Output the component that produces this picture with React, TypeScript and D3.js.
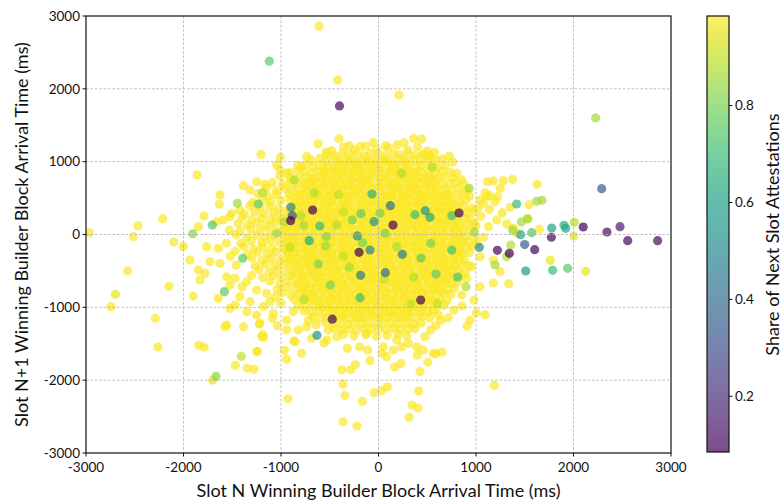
import React from 'react';
import * as d3 from 'd3';

// ---- axis ticks ----
const xTicks = [-3000, -2000, -1000, 0, 1000, 2000, 3000];
const yTicks = [-3000, -2000, -1000, 0, 1000, 2000, 3000];
const cbTicks = [0.2, 0.4, 0.6, 0.8];
const shareMin = 0.085;
const shareMax = 0.985;

// ---- data: [slot N arrival ms, slot N+1 arrival ms, share of next slot attestations (%)] ----
const corePoints: number[][] = [
[-480,1150,98],[-360,1200,98],[-250,1165,98],[-130,1215,98],[-20,1170,98],[100,1190,98],[190,1230,98],[300,1160,98],[400,1205,98],[500,1150,98],[575,1128,98],
[-530,1100,98],[-448,1085,98],[-370,1112,98],[-305,1094,98],[-222,1106,98],[-146,1088,98],[-80,1115,98],[4,1098,98],[72,1082,98],[155,1108,98],[221,1093,98],[304,1110,98],[371,1090,98],[455,1102,98],[522,1084,98],
[-692,1020,98],[-600,1045,98],[-541,1008,98],[-460,1026,98],[-391,1015,98],[-309,1030,98],[-240,1005,98],[-160,1022,98],[-92,1012,98],[-10,1034,98],[65,1018,98],[133,1006,98],[215,1028,98],[284,1014,98],[366,1024,98],[433,1010,98],[515,1032,98],[590,1016,98],[655,1040,98],
[-828,945,98],[-740,960,98],[-672,930,98],[-604,952,98],[-522,938,98],[-453,926,98],[-372,948,98],[-303,935,98],[-221,957,98],[-154,929,98],[-71,944,98],[3,936,98],[78,950,98],[147,927,98],[228,941,98],[297,955,98],[378,932,98],[446,946,98],[528,938,98],[597,925,98],[680,948,98],
[-913,852,98],[-830,875,98],[-763,870,98],[-688,848,98],[-613,864,98],[-538,855,98],[-463,872,98],[-388,846,98],[-313,860,98],[-238,868,98],[-163,851,98],[-88,866,98],[-13,857,98],[62,844,98],[137,870,98],[212,853,98],[287,862,98],[362,849,98],[437,868,98],[512,856,98],[587,845,98],[662,866,98],[737,852,98],
[-1010,800,98],[-905,768,98],[-822,772,98],[-747,785,98],[-679,768,98],[-597,792,98],[-528,777,98],[-446,766,98],[-378,788,98],[-296,774,98],[-229,782,98],[-147,769,98],[-78,791,98],[3,776,98],[71,784,98],[154,770,98],[221,789,98],[304,765,98],[372,781,98],[454,773,98],[521,790,98],[603,767,98],[671,785,98],[760,778,98],[850,752,98],
[-1090,712,98],[-985,684,98],[-905,715,98],[-841,696,98],[-760,712,98],[-691,694,98],[-609,705,98],[-541,688,98],[-460,710,98],[-392,699,98],[-310,686,98],[-241,707,98],[-160,695,98],[-91,714,98],[-9,690,98],[59,703,98],[141,692,98],[208,711,98],[291,698,98],[359,687,98],[441,706,98],[509,694,98],[590,709,98],[658,690,98],[735,698,98],[795,716,98],[880,688,98],
[-1150,635,98],[-1045,600,98],[-960,630,98],[-896,608,98],[-829,625,98],[-746,614,98],[-678,632,98],[-603,606,98],[-521,621,98],[-454,630,98],[-371,611,98],[-304,624,98],[-221,607,98],[-153,629,98],[-72,616,98],[4,626,98],[71,609,98],[154,622,98],[228,633,98],[297,612,98],[379,619,98],[446,605,98],[529,628,98],[596,615,98],[679,623,98],[746,610,98],[820,640,98],[905,605,98],
[-1235,560,98],[-1140,530,98],[-1050,548,98],[-917,545,98],[-834,528,98],[-766,550,98],[-684,536,98],[-617,542,98],[-535,526,98],[-466,553,98],[-384,539,98],[-317,530,98],[-235,547,98],[-166,535,98],[-84,551,98],[-16,527,98],[66,544,98],[133,533,98],[216,549,98],[283,538,98],[366,529,98],[433,546,98],[516,537,98],[583,552,98],[666,531,98],[733,543,98],[812,540,98],[874,556,98],[935,528,98],
[-1290,440,98],[-1190,476,98],[-1105,450,98],[-1000,470,98],[-904,472,98],[-821,448,98],[-754,462,98],[-671,457,98],[-604,470,98],[-521,450,98],[-454,465,98],[-371,446,98],[-304,461,98],[-221,473,98],[-154,454,98],[-71,466,98],[-4,449,98],[79,463,98],[146,458,98],[229,471,98],[296,445,98],[379,460,98],[446,467,98],[529,453,98],[596,470,98],[679,447,98],[746,464,98],[830,452,98],[900,478,98],
[-1320,395,98],[-1215,368,98],[-1120,390,98],[-1030,366,98],[-913,370,98],[-838,390,98],[-763,376,98],[-688,383,98],[-613,368,98],[-538,392,98],[-463,379,98],[-388,371,98],[-313,387,98],[-238,374,98],[-163,391,98],[-88,367,98],[-13,384,98],[62,377,98],[137,389,98],[212,369,98],[287,382,98],[362,375,98],[437,393,98],[512,373,98],[587,386,98],[662,378,98],[737,366,98],[812,389,98],[880,380,98],[960,362,98],
[-1375,280,98],[-1270,312,98],[-1175,290,98],[-1080,305,98],[-975,310,98],[-900,289,98],[-825,303,98],[-750,296,98],[-675,311,98],[-600,288,98],[-525,305,98],[-450,298,98],[-375,290,98],[-300,309,98],[-225,294,98],[-150,302,98],[-75,287,98],[0,306,98],[75,299,98],[150,291,98],[225,312,98],[300,297,98],[375,285,98],[450,304,98],[525,293,98],[600,308,98],[675,300,98],[750,289,98],[825,306,98],[900,295,98],[975,318,98],
[-1400,235,98],[-1300,205,98],[-1205,222,98],[-1110,200,98],[-1040,238,98],[-988,210,98],[-913,230,98],[-838,216,98],[-763,223,98],[-688,208,98],[-613,232,98],[-538,219,98],[-463,211,98],[-388,227,98],[-313,214,98],[-238,231,98],[-163,207,98],[-88,224,98],[-13,217,98],[62,229,98],[137,209,98],[212,222,98],[287,215,98],[362,233,98],[437,213,98],[512,226,98],[587,218,98],[662,206,98],[737,229,98],[812,214,98],[887,227,98],[945,210,98],
[-1440,150,98],[-1345,124,98],[-1250,156,98],[-1160,128,98],[-1065,146,98],[-975,150,98],[-900,128,98],[-825,143,98],[-750,137,98],[-675,152,98],[-600,129,98],[-525,146,98],[-450,138,98],[-375,131,98],[-300,149,98],[-225,134,98],[-150,142,98],[-75,127,98],[0,146,98],[75,139,98],[150,131,98],[225,153,98],[300,136,98],[375,126,98],[450,145,98],[525,133,98],[600,148,98],[675,140,98],[750,129,98],[825,147,98],[900,136,98],[985,150,98],
[-1420,45,98],[-1310,75,98],[-1210,50,98],[-1115,70,98],[-1015,48,98],[-938,50,98],[-863,70,98],[-788,56,98],[-713,63,98],[-638,48,98],[-563,72,98],[-488,59,98],[-413,51,98],[-338,67,98],[-263,54,98],[-188,71,98],[-113,47,98],[-38,64,98],[37,57,98],[112,69,98],[187,49,98],[262,62,98],[337,55,98],[412,73,98],[487,53,98],[562,66,98],[637,58,98],[712,46,98],[787,69,98],[862,54,98],[937,66,98],
[-1460,-5,98],[-1350,-38,98],[-1250,-10,98],[-1160,-35,98],[-1070,-8,98],[-975,-10,98],[-900,-32,98],[-825,-17,98],[-750,-23,98],[-675,-8,98],[-600,-31,98],[-525,-14,98],[-450,-22,98],[-375,-29,98],[-300,-11,98],[-225,-26,98],[-150,-18,98],[-75,-33,98],[0,-14,98],[75,-21,98],[150,-29,98],[225,-7,98],[300,-24,98],[375,-34,98],[450,-15,98],[525,-27,98],[600,-12,98],[675,-20,98],[750,-31,98],[825,-13,98],[900,-24,98],[990,-42,98],
[-1410,-120,98],[-1305,-88,98],[-1200,-115,98],[-1110,-85,98],[-1020,-110,98],[-938,-110,98],[-863,-90,98],[-788,-104,98],[-713,-97,98],[-638,-112,98],[-563,-88,98],[-488,-101,98],[-413,-109,98],[-338,-93,98],[-263,-106,98],[-188,-89,98],[-113,-113,98],[-38,-96,98],[37,-103,98],[112,-91,98],[187,-111,98],[262,-98,98],[337,-105,98],[412,-87,98],[487,-107,98],[562,-94,98],[637,-102,98],[712,-114,98],[787,-91,98],[862,-106,98],[920,-94,98],
[-1380,-165,98],[-1280,-200,98],[-1185,-170,98],[-1090,-195,98],[-975,-190,98],[-900,-169,98],[-825,-183,98],[-750,-177,98],[-675,-192,98],[-600,-168,98],[-525,-185,98],[-450,-178,98],[-375,-171,98],[-300,-189,98],[-225,-174,98],[-150,-182,98],[-75,-167,98],[0,-186,98],[75,-179,98],[150,-171,98],[225,-193,98],[300,-176,98],[375,-166,98],[450,-185,98],[525,-173,98],[600,-188,98],[675,-180,98],[750,-169,98],[825,-187,98],[900,-176,98],[960,-158,98],
[-1345,-275,98],[-1240,-245,98],[-1140,-270,98],[-1050,-240,98],[-938,-270,98],[-863,-249,98],[-788,-263,98],[-713,-257,98],[-638,-272,98],[-563,-248,98],[-488,-265,98],[-413,-258,98],[-338,-251,98],[-263,-269,98],[-188,-254,98],[-113,-262,98],[-38,-247,98],[37,-266,98],[112,-259,98],[187,-251,98],[262,-273,98],[337,-256,98],[412,-246,98],[487,-265,98],[562,-253,98],[637,-268,98],[712,-260,98],[787,-249,98],[862,-267,98],[935,-250,98],
[-1300,-320,98],[-1195,-355,98],[-1100,-330,98],[-1005,-352,98],[-900,-350,98],[-825,-329,98],[-750,-343,98],[-675,-337,98],[-600,-352,98],[-525,-328,98],[-450,-345,98],[-375,-338,98],[-300,-331,98],[-225,-349,98],[-150,-334,98],[-75,-342,98],[0,-327,98],[75,-346,98],[150,-339,98],[225,-331,98],[300,-353,98],[375,-336,98],[450,-326,98],[525,-345,98],[600,-333,98],[675,-348,98],[750,-340,98],[825,-329,98],[880,-350,98],
[-1265,-435,98],[-1160,-405,98],[-1065,-430,98],[-970,-410,98],[-863,-430,98],[-788,-409,98],[-713,-423,98],[-638,-417,98],[-563,-432,98],[-488,-408,98],[-413,-425,98],[-338,-418,98],[-263,-411,98],[-188,-429,98],[-113,-414,98],[-38,-422,98],[37,-407,98],[112,-426,98],[187,-419,98],[262,-411,98],[337,-433,98],[412,-416,98],[487,-406,98],[562,-425,98],[637,-413,98],[712,-428,98],[787,-420,98],[862,-409,98],[925,-430,98],
[-1225,-480,98],[-1120,-515,98],[-1030,-490,98],[-935,-512,98],[-825,-510,98],[-750,-489,98],[-675,-503,98],[-600,-497,98],[-525,-512,98],[-450,-488,98],[-375,-505,98],[-300,-498,98],[-225,-491,98],[-150,-509,98],[-75,-494,98],[0,-502,98],[75,-487,98],[150,-506,98],[225,-499,98],[300,-491,98],[375,-513,98],[450,-496,98],[525,-486,98],[600,-505,98],[675,-493,98],[750,-508,98],[825,-500,98],[890,-520,98],
[-1185,-595,98],[-1080,-565,98],[-990,-590,98],[-895,-568,98],[-788,-590,98],[-713,-569,98],[-638,-583,98],[-563,-577,98],[-488,-592,98],[-413,-568,98],[-338,-585,98],[-263,-578,98],[-188,-571,98],[-113,-589,98],[-38,-574,98],[37,-582,98],[112,-567,98],[187,-586,98],[262,-579,98],[337,-571,98],[412,-593,98],[487,-576,98],[562,-566,98],[637,-585,98],[712,-573,98],[787,-588,98],[850,-570,98],
[-1110,-640,98],[-1010,-675,98],[-915,-650,98],[-830,-672,98],[-755,-648,98],[-675,-670,98],[-600,-649,98],[-525,-663,98],[-450,-657,98],[-375,-672,98],[-300,-648,98],[-225,-665,98],[-150,-658,98],[-75,-651,98],[0,-669,98],[75,-654,98],[150,-662,98],[225,-647,98],[300,-666,98],[375,-659,98],[450,-651,98],[525,-673,98],[600,-656,98],[675,-646,98],[750,-665,98],[820,-650,98],
[-1040,-755,98],[-945,-725,98],[-860,-750,98],[-788,-735,98],[-713,-750,98],[-638,-729,98],[-563,-743,98],[-488,-737,98],[-413,-752,98],[-338,-728,98],[-263,-745,98],[-188,-738,98],[-113,-731,98],[-38,-749,98],[37,-734,98],[112,-742,98],[187,-727,98],[262,-746,98],[337,-739,98],[412,-731,98],[487,-753,98],[562,-736,98],[637,-726,98],[712,-745,98],[780,-730,98],
[-990,-800,98],[-900,-835,98],[-820,-815,98],[-750,-815,98],[-675,-830,98],[-600,-809,98],[-525,-823,98],[-450,-817,98],[-375,-832,98],[-300,-808,98],[-225,-825,98],[-150,-818,98],[-75,-811,98],[0,-829,98],[75,-814,98],[150,-822,98],[225,-807,98],[300,-826,98],[375,-819,98],[450,-811,98],[525,-833,98],[600,-816,98],[675,-806,98],[745,-825,98],
[-863,-892,98],[-788,-908,98],[-713,-895,98],[-638,-910,98],[-563,-889,98],[-488,-903,98],[-413,-897,98],[-338,-912,98],[-263,-888,98],[-188,-905,98],[-113,-898,98],[-38,-891,98],[37,-909,98],[112,-894,98],[187,-902,98],[262,-887,98],[337,-906,98],[412,-899,98],[487,-891,98],[562,-913,98],[637,-896,98],[700,-910,98],
[-825,-972,98],[-750,-988,98],[-675,-975,98],[-600,-990,98],[-525,-969,98],[-450,-983,98],[-375,-977,98],[-300,-992,98],[-225,-968,98],[-150,-985,98],[-75,-978,98],[0,-971,98],[75,-989,98],[150,-974,98],[225,-982,98],[300,-967,98],[375,-986,98],[450,-979,98],[525,-971,98],[600,-993,98],[670,-975,98],
[-763,-1052,98],[-688,-1068,98],[-613,-1055,98],[-538,-1070,98],[-463,-1049,98],[-388,-1063,98],[-313,-1057,98],[-238,-1072,98],[-163,-1048,98],[-88,-1065,98],[-13,-1058,98],[62,-1051,98],[137,-1069,98],[212,-1054,98],[287,-1062,98],[362,-1047,98],[437,-1066,98],[512,-1059,98],[562,-1051,98],
[-675,-1132,98],[-600,-1148,98],[-525,-1135,98],[-450,-1150,98],[-375,-1129,98],[-300,-1143,98],[-225,-1137,98],[-150,-1152,98],[-75,-1128,98],[0,-1145,98],[75,-1138,98],[150,-1131,98],[225,-1149,98],[300,-1134,98],[375,-1142,98],[450,-1127,98],[525,-1146,98],
[-538,-1212,98],[-463,-1228,98],[-388,-1215,98],[-313,-1230,98],[-238,-1209,98],[-163,-1223,98],[-88,-1217,98],[-13,-1232,98],[62,-1208,98],[137,-1225,98],[212,-1218,98],[287,-1211,98],[362,-1229,98],[437,-1214,98],
[-450,-1292,98],[-375,-1308,98],[-300,-1295,98],[-225,-1310,98],[-150,-1289,98],[-75,-1303,98],[0,-1297,98],[75,-1312,98],[150,-1288,98],[225,-1305,98],[300,-1298,98],[375,-1291,98],
[-360,-1372,98],[-250,-1395,98],[-130,-1378,98],[-20,-1400,98],[90,-1385,98],[200,-1370,98],[290,-1392,98],
];

// densest middle of the cloud (second layer of overlapping slots)
const innerPoints: number[][] = [
[-405,972,98],[-300,995,98],[-214,968,98],[-112,990,98],[-25,975,98],[80,998,98],[168,965,98],[270,985,98],
[-560,880,98],[-455,858,98],[-368,875,98],[-262,862,98],[-178,885,98],[-73,866,98],[12,878,98],[118,855,98],[202,872,98],[307,887,98],[392,860,98],
[-670,752,98],[-566,770,98],[-479,745,98],[-376,765,98],[-290,748,98],[-185,772,98],[-99,755,98],[6,768,98],[90,743,98],[194,762,98],[281,775,98],[385,749,98],[470,766,98],[548,752,98],
[-748,660,98],[-643,638,98],[-558,655,98],[-452,642,98],[-368,664,98],[-263,645,98],[-178,658,98],[-73,636,98],[12,652,98],[117,666,98],[202,640,98],[308,657,98],[392,643,98],[497,662,98],[582,646,98],
[-810,548,98],[-705,530,98],[-620,552,98],[-515,536,98],[-430,545,98],[-325,528,98],[-240,556,98],[-135,538,98],[-50,550,98],[55,532,98],[140,547,98],[245,529,98],[330,555,98],[435,537,98],[520,551,98],[625,534,98],[688,548,98],
[-858,438,98],[-753,420,98],[-668,442,98],[-563,425,98],[-478,436,98],[-373,418,98],[-288,445,98],[-183,428,98],[-98,440,98],[7,422,98],[92,446,98],[197,427,98],[282,439,98],[387,421,98],[472,444,98],[577,426,98],[662,437,98],[742,423,98],
[-895,328,98],[-810,312,98],[-705,333,98],[-620,315,98],[-515,326,98],[-430,308,98],[-325,335,98],[-240,318,98],[-135,330,98],[-50,312,98],[55,336,98],[140,317,98],[245,329,98],[330,311,98],[435,334,98],[520,316,98],[625,327,98],[710,309,98],[785,330,98],
[-918,218,98],[-833,202,98],[-728,223,98],[-643,205,98],[-538,216,98],[-453,198,98],[-348,225,98],[-263,208,98],[-158,220,98],[-73,202,98],[32,226,98],[117,207,98],[222,219,98],[307,201,98],[412,224,98],[497,206,98],[602,217,98],[687,199,98],[792,222,98],
[-940,108,98],[-855,92,98],[-750,113,98],[-665,95,98],[-560,106,98],[-475,88,98],[-370,115,98],[-285,98,98],[-180,110,98],[-95,92,98],[10,116,98],[95,97,98],[200,109,98],[285,91,98],[390,114,98],[475,96,98],[580,107,98],[665,89,98],[770,112,98],[832,95,98],
[-943,-2,98],[-858,-18,98],[-753,3,98],[-668,-15,98],[-563,-4,98],[-478,-22,98],[-373,5,98],[-288,-12,98],[-183,0,98],[-98,-18,98],[7,6,98],[92,-13,98],[197,-1,98],[282,-19,98],[387,4,98],[472,-14,98],[577,-3,98],[662,-21,98],[767,2,98],[835,-16,98],
[-950,-112,98],[-865,-128,98],[-760,-107,98],[-675,-125,98],[-570,-114,98],[-485,-132,98],[-380,-105,98],[-295,-122,98],[-190,-110,98],[-105,-128,98],[0,-104,98],[85,-123,98],[190,-111,98],[275,-129,98],[380,-106,98],[465,-124,98],[570,-113,98],[655,-131,98],[760,-108,98],[832,-126,98],
[-943,-222,98],[-858,-238,98],[-753,-217,98],[-668,-235,98],[-563,-224,98],[-478,-242,98],[-373,-215,98],[-288,-232,98],[-183,-220,98],[-98,-238,98],[7,-214,98],[92,-233,98],[197,-221,98],[282,-239,98],[387,-216,98],[472,-234,98],[577,-223,98],[662,-241,98],[767,-218,98],[828,-236,98],
[-925,-332,98],[-840,-348,98],[-735,-327,98],[-650,-345,98],[-545,-334,98],[-460,-352,98],[-355,-325,98],[-270,-342,98],[-165,-330,98],[-80,-348,98],[25,-324,98],[110,-343,98],[215,-331,98],[300,-349,98],[405,-326,98],[490,-344,98],[595,-333,98],[680,-351,98],[775,-328,98],
[-895,-442,98],[-810,-458,98],[-705,-437,98],[-620,-455,98],[-515,-444,98],[-430,-462,98],[-325,-435,98],[-240,-452,98],[-135,-440,98],[-50,-458,98],[55,-434,98],[140,-453,98],[245,-441,98],[330,-459,98],[435,-436,98],[520,-454,98],[625,-443,98],[710,-461,98],[785,-438,98],
[-865,-552,98],[-780,-568,98],[-675,-547,98],[-590,-565,98],[-485,-554,98],[-400,-572,98],[-295,-545,98],[-210,-562,98],[-105,-550,98],[-20,-568,98],[85,-544,98],[170,-563,98],[275,-551,98],[360,-569,98],[465,-546,98],[550,-564,98],[655,-553,98],[740,-571,98],
[-820,-662,98],[-735,-678,98],[-630,-657,98],[-545,-675,98],[-440,-664,98],[-355,-682,98],[-250,-655,98],[-165,-672,98],[-60,-660,98],[25,-678,98],[130,-654,98],[215,-673,98],[320,-661,98],[405,-679,98],[510,-656,98],[595,-674,98],[690,-663,98],
[-765,-772,98],[-680,-788,98],[-575,-767,98],[-490,-785,98],[-385,-774,98],[-300,-792,98],[-195,-765,98],[-110,-782,98],[-5,-770,98],[80,-788,98],[185,-764,98],[270,-783,98],[375,-771,98],[460,-789,98],[565,-766,98],[645,-784,98],
[-685,-882,98],[-600,-898,98],[-495,-877,98],[-410,-895,98],[-305,-884,98],[-220,-902,98],[-115,-875,98],[-30,-892,98],[75,-880,98],[160,-898,98],[265,-874,98],[350,-893,98],[455,-881,98],[540,-899,98],
[-590,-992,98],[-505,-1008,98],[-400,-987,98],[-315,-1005,98],[-210,-994,98],[-125,-1012,98],[-20,-985,98],[65,-1002,98],[170,-990,98],[255,-1008,98],[360,-984,98],[445,-1003,98],
[-445,-1102,98],[-360,-1118,98],[-255,-1097,98],[-170,-1115,98],[-65,-1104,98],[20,-1122,98],[125,-1095,98],[210,-1112,98],[305,-1100,98],
];

const fringePoints: number[][] = [
[-610,2860,98],[-420,2120,98],[210,1915,98],[-405,1315,98],[-620,1245,98],[-535,1135,98],[-1205,1100,98],[-1008,1062,98],[-1860,817,98],
[-300,1220,98],[-190,1206,98],[-53,1261,98],[74,1220,98],[361,1316,98],[443,1311,98],[262,1261,98],[726,1078,98],[761,992,98],[460,1101,98],[535,1069,98],[802,840,98],
[-737,1069,98],[-1044,954,98],[-1010,886,98],[-942,840,98],[-788,931,97],
[-2213,217,98],[-2467,121,98],[-2515,-30,98],[-2966,25,98],[-1790,254,98],[-2100,-103,98],[-2003,-167,96],
[-1626,543,98],[-1633,415,98],[-1386,670,98],[-1250,725,98],[-1168,689,98],[-1318,611,98],[-1421,336,98],[-1506,291,98],[-1524,245,98],[-1592,199,98],[-1660,176,98],[-1848,107,98],
[-2572,-501,98],[-2699,-822,95],[-2744,-991,98],[-2289,-1151,98],[-2262,-1545,98],[-2149,-712,98],
[-1900,-845,98],[-1844,-1522,98],[-1787,-1545,98],[-1700,-1999,95],[-1469,-1797,98],[-1346,-1838,98],[-1277,-1851,98],[-1243,-1604,98],
[-1557,-1243,98],[-1386,-1266,98],[-1222,-1229,98],[-1188,-1376,98],[-1180,-1410,98],[-1089,-1151,98],[-1038,-1252,98],
[-928,-2255,98],[-966,-1590,98],[-942,-1714,98],[-867,-1462,98],
[-1934,-350,98],[-1848,-488,98],[-1780,-533,98],[-1729,-373,98],[-1763,-167,98],[-1831,-625,98],[-1643,-190,98],[-1626,-396,98],[-1557,-580,98],[-1643,-876,98],
[-1524,-1014,98],[-1472,-968,98],[-1421,-854,98],[-1318,-922,98],[-1250,-1105,98],[-1216,-1220,98],[-1352,-1060,98],[-1575,-1266,98],[-1198,-1404,98],[-1250,-1609,98],
[-1524,-694,98],[-1472,-602,98],[-1352,-648,98],[-1301,-560,98],[-1250,-762,98],[-1147,-808,98],[-1113,-922,98],[-1079,-1082,98],[-942,-1174,98],[-874,-1060,98],
[-1560,-120,98],[-1520,-300,98],[-1460,-420,98],[-1530,60,98],[-1470,-230,98],[-1400,-720,98],[-1180,-990,98],[-1000,-940,98],[-1060,-860,98],
[-823,-1311,98],[-942,-1311,98],[-737,-1266,98],[-685,-1425,98],[-857,-1472,98],[-788,-1631,98],[-531,-1449,98],[-515,-1311,98],[-429,-1404,98],[-560,-1490,98],[-640,-1240,98],[-720,-1180,98],
[-320,-1563,98],[-364,-2053,98],[-344,-2209,98],[-364,-2571,98],[-221,-2630,98],[-166,-2291,98],[-46,-2172,98],[29,-2145,98],[90,-2094,98],
[-374,-1857,98],[-285,-1857,98],[-238,-1788,98],[-87,-1733,98],[166,-1820,98],[-193,-1541,98],[-111,-1586,98],[-121,-1357,98],
[651,-1618,98],[587,-1637,98],[505,-1755,98],[426,-1884,98],[392,-1541,98],[398,-1655,98],[412,-2149,98],[344,-2341,98],[405,-2383,98],[313,-2510,98],[231,-1769,98],
[535,-1312,98],[477,-1404,98],[152,-1586,98],[33,-1631,98],[238,-1541,98],[460,-1586,98],[562,-1631,98],[84,-1678,98],[186,-1449,98],[306,-1495,98],[50,-1541,98],
[614,-1105,98],[640,-1180,98],[590,-1250,98],[1188,-2071,98],
[1626,689,98],[1376,758,98],[1280,739,98],[1177,735,98],[1116,725,98],[1249,634,98],[1222,519,98],[1092,574,98],[1144,529,98],[1544,410,98],[1352,373,98],[1650,71,98],
[1041,474,98],[1110,519,98],[1195,451,98],[1075,428,98],[1137,346,98],[1212,199,98],[1315,144,98],[1127,107,98],[1383,85,98],[1418,16,98],[1527,222,96],
[1050,250,98],[1010,-120,98],[1080,-40,98],[1000,120,98],[1020,360,98],[1270,300,97],
[2125,-506,96],[1762,-355,96],[1177,-666,98],[1335,-675,98],[1178,-350,98],[1247,-510,98],[1041,-305,98],[956,-442,98],[905,-602,98],[1041,-716,98],[853,-831,98],[980,-900,98],
[1092,-1101,98],[1003,-1073,98],[938,-1179,98],[908,-1261,98],[856,-982,98],[774,-1037,98],[716,-1142,98],
];

const colouredPoints: number[][] = [
[-1120,2380,76],[-400,1765,10],[-1705,130,74],[-1906,10,82],[-1448,428,86],[-1233,419,76],[-1188,574,88],[-1667,-1947,82],[-1581,-785,76],[-1407,-1673,90],
[-631,-1384,55],[-474,-1163,10],
[2227,1600,86],[2289,629,35],[2100,103,9],[2343,34,12],[2477,107,15],[2556,-85,10],[2863,-85,11],
[2008,167,88],[2002,-20,95],[1920,85,62],[1903,126,66],[1776,89,62],[1773,-38,10],[1677,470,86],[1622,456,86],[1417,419,70],
[1530,213,86],[1465,172,86],[1571,25,74],[1458,-3,62],[1376,62,86],[1499,-138,35],[1219,-217,10],[1342,-259,6],[1602,-208,10],[1034,-176,50],
[1510,-501,56],[1786,-492,70],[1940,-465,76],[1195,-419,86],[1315,-305,88],[1356,-144,88],[983,34,86],
[-897,373,50],[-884,258,30],[-901,190,8],[-675,336,5],[-603,117,68],[-67,556,66],[121,396,40],[149,130,5],[-46,176,56],[-710,-85,62],[-535,-30,82],[-217,-20,56],[-269,199,80],[-179,286,76],[-863,749,88],[-658,574,88],
[480,327,56],[528,236,62],[374,272,72],[826,295,5],[751,258,72],[238,840,88],[552,923,88],[931,634,86],
[-1044,16,86],[-1393,-327,76],[-542,-158,86],[-162,-112,80],[-200,-245,5],[-87,-213,50],[-183,-561,45],[-617,-405,80],[-299,-450,86],[-494,-694,80],[-190,-868,70],[-764,-890,88],[-908,-176,90],[-361,-295,90],
[244,-272,45],[70,-524,40],[436,-323,76],[535,-121,80],[751,-213,72],[590,-543,76],[812,-584,72],[433,-900,5],[364,-588,88],[186,-167,88],[60,-615,90],[330,-955,90],[603,-945,90],[897,-716,88],
[15,291,80],[67,16,80],[-429,130,88],[-966,176,88],[-795,258,88],[-361,313,90],[-408,547,90],[-767,126,86],
];

const W = 784;
const H = 503;
const PL = 86, PR = 671, PT = 16, PB = 453;
const CBL = 707, CBR = 729;
const FONT = 'Lato, "Open Sans", sans-serif';

export default function App() {
  const x = d3.scaleLinear().domain([-3000, 3000]).range([PL, PR]);
  const y = d3.scaleLinear().domain([-3000, 3000]).range([PB, PT]);
  const cb = d3.scaleLinear().domain([shareMin, shareMax]).range([PB - 1, PT]);
  const colour = (v: number) => d3.interpolateViridis(Math.max(0, Math.min(1, (v - shareMin) / (shareMax - shareMin))));

  const sortedColoured = [...colouredPoints].sort((a, b) => b[2] - a[2]);
  const all = [...fringePoints, ...corePoints, ...innerPoints, ...sortedColoured];

  const gradStops = d3.range(0, 1.0001, 0.05);

  return (
    <svg width={W} height={H} style={{ position: 'absolute', left: 0, top: 0, background: '#fff' }} fontFamily={FONT}>
      <defs>
        <clipPath id="plotClip"><rect x={PL} y={PT} width={PR - PL} height={PB - PT} /></clipPath>
        <linearGradient id="cbGrad" x1="0" y1="1" x2="0" y2="0">
          {gradStops.map((t, i) => (
            <stop key={i} offset={t} stopColor={d3.interpolateViridis(t)} stopOpacity={0.7} />
          ))}
        </linearGradient>
      </defs>
      <rect x={0} y={0} width={W} height={H} fill="#fff" />
      <g clipPath="url(#plotClip)">
        {all.map((p, i) => (
          <circle key={i} cx={x(p[0])} cy={y(p[1])} r={4.6} fill={colour(p[2] / 100)} fillOpacity={0.7} />
        ))}
      </g>
      <g stroke="#b0b0b0" strokeWidth={0.8} strokeDasharray="2.6,1.8">
        {xTicks.slice(1, -1).map((t) => <line key={'gx' + t} x1={x(t)} x2={x(t)} y1={PT} y2={PB} />)}
        {yTicks.slice(1, -1).map((t) => <line key={'gy' + t} x1={PL} x2={PR} y1={y(t)} y2={y(t)} />)}
      </g>
      <rect x={PL} y={PT} width={PR - PL} height={PB - PT} fill="none" stroke="#111" strokeWidth={1.2} />
      {xTicks.map((t) => (
        <g key={'xt' + t}>
          <line x1={x(t)} x2={x(t)} y1={PB} y2={PB + 3.5} stroke="#111" strokeWidth={1} />
          <text x={x(t)} y={PB + 19} fontSize={13.5} textAnchor="middle" fill="#111">{t}</text>
        </g>
      ))}
      {yTicks.map((t) => (
        <g key={'yt' + t}>
          <line x1={PL - 3.5} x2={PL} y1={y(t)} y2={y(t)} stroke="#111" strokeWidth={1} />
          <text x={PL - 6} y={y(t) + 4.7} fontSize={13.5} textAnchor="end" fill="#111">{t}</text>
        </g>
      ))}
      <text x={(PL + PR) / 2} y={497} fontSize={18} textAnchor="middle" fill="#111">Slot N Winning Builder Block Arrival Time (ms)</text>
      <text transform={`translate(28,${(PT + PB) / 2}) rotate(-90)`} fontSize={18} textAnchor="middle" fill="#111">Slot N+1 Winning Builder Block Arrival Time (ms)</text>
      <rect x={CBL} y={PT} width={CBR - CBL} height={PB - 1 - PT} fill="url(#cbGrad)" stroke="#111" strokeWidth={1.2} />
      {cbTicks.map((t) => (
        <g key={'cb' + t}>
          <line x1={CBR} x2={CBR + 3.5} y1={cb(t)} y2={cb(t)} stroke="#111" strokeWidth={1} />
          <text x={CBR + 6} y={cb(t) + 4.7} fontSize={13.5} textAnchor="start" fill="#111">{t.toFixed(1)}</text>
        </g>
      ))}
      <text transform={`translate(779,${(PT + PB) / 2}) rotate(-90)`} fontSize={18} textAnchor="middle" fill="#111">Share of Next Slot Attestations</text>
    </svg>
  );
}
